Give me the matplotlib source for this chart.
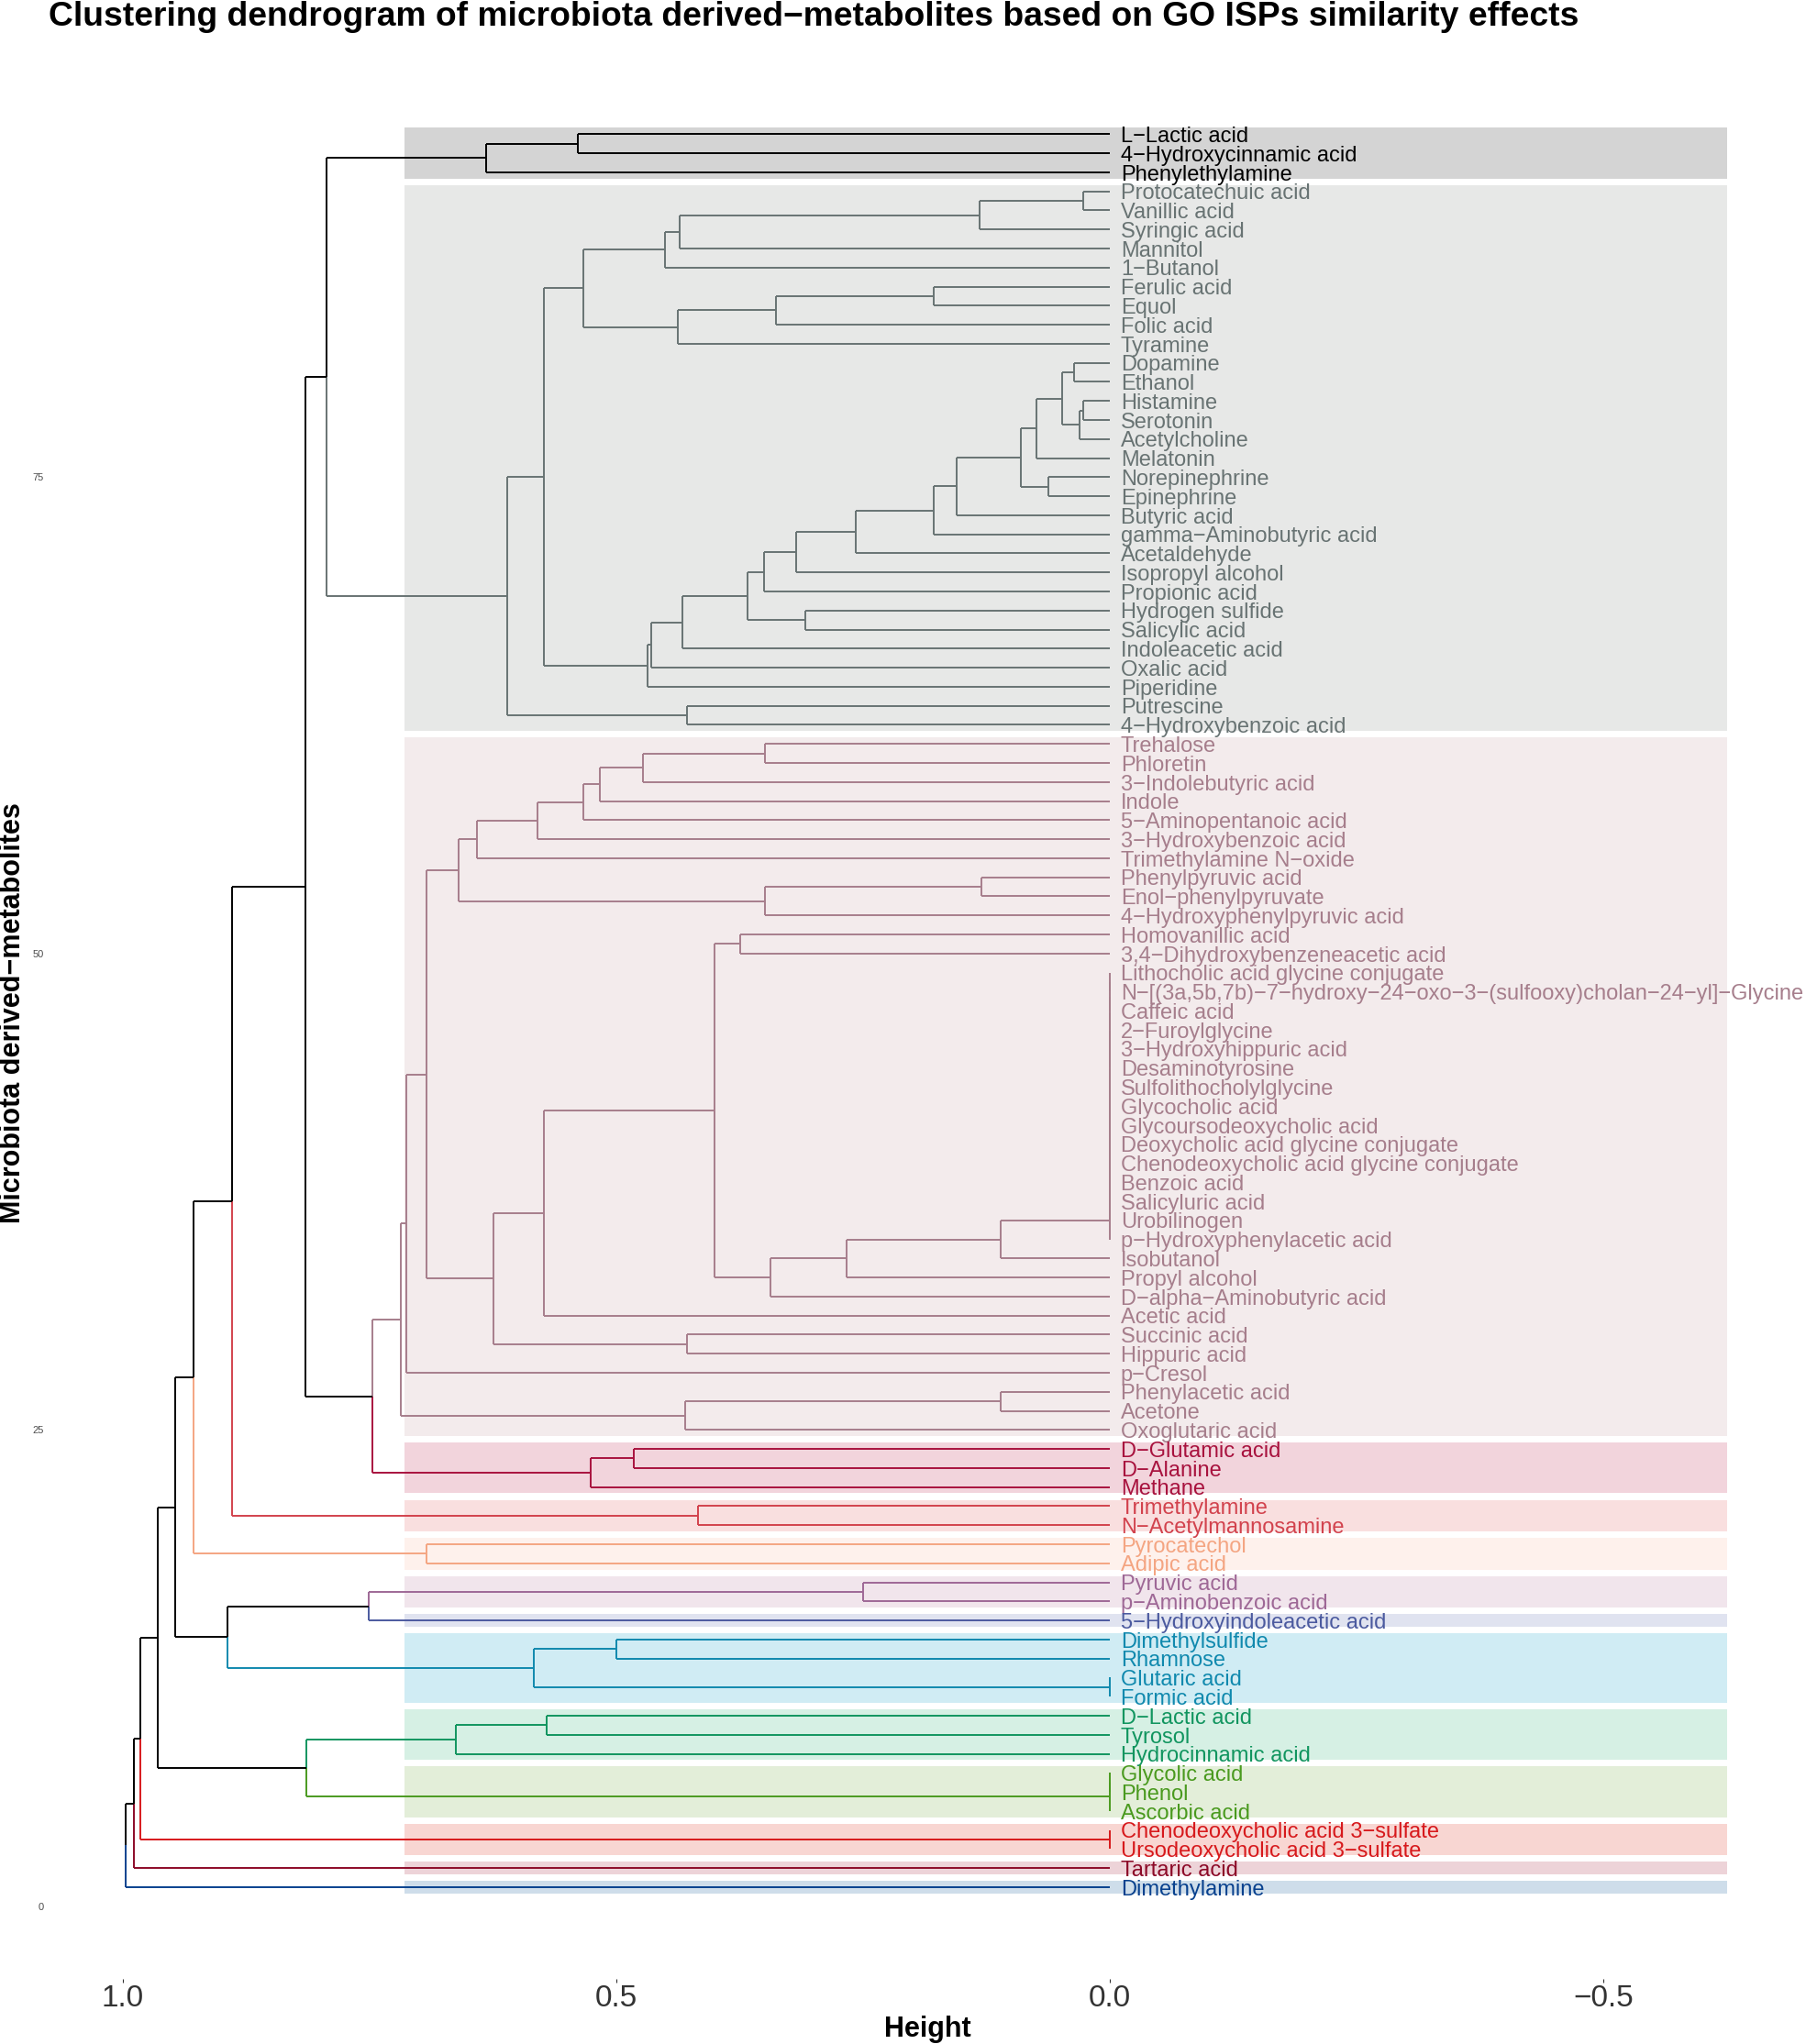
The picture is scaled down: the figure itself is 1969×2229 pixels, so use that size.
import matplotlib
matplotlib.use("Agg")
import matplotlib.pyplot as plt
from matplotlib.patches import Rectangle

plt.rcParams['font.family'] = ['Liberation Sans', 'DejaVu Sans']

# leaves, top to bottom
leaf_names = [
    "L-Lactic acid", "4-Hydroxycinnamic acid", "Phenylethylamine",
    "Protocatechuic acid", "Vanillic acid", "Syringic acid", "Mannitol", "1-Butanol",
    "Ferulic acid", "Equol", "Folic acid", "Tyramine", "Dopamine", "Ethanol",
    "Histamine", "Serotonin", "Acetylcholine", "Melatonin", "Norepinephrine",
    "Epinephrine", "Butyric acid", "gamma-Aminobutyric acid", "Acetaldehyde",
    "Isopropyl alcohol", "Propionic acid", "Hydrogen sulfide", "Salicylic acid",
    "Indoleacetic acid", "Oxalic acid", "Piperidine", "Putrescine",
    "4-Hydroxybenzoic acid",
    "Trehalose", "Phloretin", "3-Indolebutyric acid", "Indole",
    "5-Aminopentanoic acid", "3-Hydroxybenzoic acid", "Trimethylamine N-oxide",
    "Phenylpyruvic acid", "Enol-phenylpyruvate", "4-Hydroxyphenylpyruvic acid",
    "Homovanillic acid", "3,4-Dihydroxybenzeneacetic acid",
    "Lithocholic acid glycine conjugate",
    "N-[(3a,5b,7b)-7-hydroxy-24-oxo-3-(sulfooxy)cholan-24-yl]-Glycine",
    "Caffeic acid", "2-Furoylglycine", "3-Hydroxyhippuric acid", "Desaminotyrosine",
    "Sulfolithocholylglycine", "Glycocholic acid", "Glycoursodeoxycholic acid",
    "Deoxycholic acid glycine conjugate", "Chenodeoxycholic acid glycine conjugate",
    "Benzoic acid", "Salicyluric acid", "Urobilinogen", "p-Hydroxyphenylacetic acid",
    "Isobutanol", "Propyl alcohol", "D-alpha-Aminobutyric acid", "Acetic acid",
    "Succinic acid", "Hippuric acid", "p-Cresol", "Phenylacetic acid", "Acetone",
    "Oxoglutaric acid",
    "D-Glutamic acid", "D-Alanine", "Methane",
    "Trimethylamine", "N-Acetylmannosamine",
    "Pyrocatechol", "Adipic acid",
    "Pyruvic acid", "p-Aminobenzoic acid",
    "5-Hydroxyindoleacetic acid",
    "Dimethylsulfide", "Rhamnose", "Glutaric acid", "Formic acid",
    "D-Lactic acid", "Tyrosol", "Hydrocinnamic acid",
    "Glycolic acid", "Phenol", "Ascorbic acid",
    "Chenodeoxycholic acid 3-sulfate", "Ursodeoxycholic acid 3-sulfate",
    "Tartaric acid",
    "Dimethylamine",
]

# clusters in leaf order
cluster_sizes = [3, 29, 37, 3, 2, 2, 2, 1, 4, 3, 3, 2, 1, 1]
cluster_colors = ["#000000", "#687373", "#A67E8C", "#A8123E", "#D2424D", "#F4A582",
                  "#9E6896", "#4B5A9F", "#1089AE", "#11955F", "#4A9A1F", "#D7191C",
                  "#8C0A28", "#08418E"]
rect_colors = ["#D4D4D4", "#E7E8E7", "#F3EBEC", "#F2D4DC", "#F9DFDF", "#FEF1EC",
               "#F1E5EC", "#E0E3F0", "#D0ECF4", "#D6F0E4", "#E3EED9", "#F8D6D2",
               "#EDD3D8", "#CEDDEA"]

# merges: (node, child 1, child 2, height)
merges = [
    ("t1", "L-Lactic acid", "4-Hydroxycinnamic acid", 0.539),
    ("t2", "t1", "Phenylethylamine", 0.632),
    ("g1", "Protocatechuic acid", "Vanillic acid", 0.027),
    ("g2", "g1", "Syringic acid", 0.132),
    ("g3", "g2", "Mannitol", 0.436),
    ("g4", "g3", "1-Butanol", 0.451),
    ("g5", "Ferulic acid", "Equol", 0.178),
    ("g6", "g5", "Folic acid", 0.338),
    ("g7", "g6", "Tyramine", 0.438),
    ("g8", "g4", "g7", 0.533),
    ("g9", "Dopamine", "Ethanol", 0.036),
    ("g10", "Histamine", "Serotonin", 0.027),
    ("g11", "g10", "Acetylcholine", 0.031),
    ("g12", "g9", "g11", 0.048),
    ("g13", "g12", "Melatonin", 0.074),
    ("g14", "Norepinephrine", "Epinephrine", 0.062),
    ("g15", "g13", "g14", 0.090),
    ("g16", "g15", "Butyric acid", 0.155),
    ("g17", "g16", "gamma-Aminobutyric acid", 0.178),
    ("g18", "g17", "Acetaldehyde", 0.257),
    ("g19", "g18", "Isopropyl alcohol", 0.318),
    ("g20", "g19", "Propionic acid", 0.350),
    ("g21", "Hydrogen sulfide", "Salicylic acid", 0.309),
    ("g22", "g20", "g21", 0.367),
    ("g23", "g22", "Indoleacetic acid", 0.433),
    ("g24", "g23", "Oxalic acid", 0.465),
    ("g25", "g24", "Piperidine", 0.468),
    ("g26", "g8", "g25", 0.573),
    ("g27", "Putrescine", "4-Hydroxybenzoic acid", 0.428),
    ("g28", "g26", "g27", 0.611),
    ("p1", "Trehalose", "Phloretin", 0.349),
    ("p2", "p1", "3-Indolebutyric acid", 0.473),
    ("p3", "p2", "Indole", 0.517),
    ("p4", "p3", "5-Aminopentanoic acid", 0.533),
    ("p5", "p4", "3-Hydroxybenzoic acid", 0.580),
    ("p6", "p5", "Trimethylamine N-oxide", 0.641),
    ("p7", "Phenylpyruvic acid", "Enol-phenylpyruvate", 0.130),
    ("p8", "p7", "4-Hydroxyphenylpyruvic acid", 0.349),
    ("p9", "p6", "p8", 0.660),
    ("p10", "Homovanillic acid", "3,4-Dihydroxybenzeneacetic acid", 0.375),
    ("z1", "Lithocholic acid glycine conjugate",
     "N-[(3a,5b,7b)-7-hydroxy-24-oxo-3-(sulfooxy)cholan-24-yl]-Glycine", 0.0),
    ("z2", "z1", "Caffeic acid", 0.0),
    ("z3", "z2", "2-Furoylglycine", 0.0),
    ("z4", "z3", "3-Hydroxyhippuric acid", 0.0),
    ("z5", "z4", "Desaminotyrosine", 0.0),
    ("z6", "z5", "Sulfolithocholylglycine", 0.0),
    ("z7", "z6", "Glycocholic acid", 0.0),
    ("z8", "z7", "Glycoursodeoxycholic acid", 0.0),
    ("z9", "z8", "Deoxycholic acid glycine conjugate", 0.0),
    ("z10", "z9", "Chenodeoxycholic acid glycine conjugate", 0.0),
    ("z11", "z10", "Benzoic acid", 0.0),
    ("z12", "z11", "Salicyluric acid", 0.0),
    ("z13", "z12", "Urobilinogen", 0.0),
    ("z14", "z13", "p-Hydroxyphenylacetic acid", 0.0),
    ("p11", "z14", "Isobutanol", 0.111),
    ("p12", "p11", "Propyl alcohol", 0.267),
    ("p13", "p12", "D-alpha-Aminobutyric acid", 0.344),
    ("p14", "p10", "p13", 0.401),
    ("p15", "p14", "Acetic acid", 0.573),
    ("p16", "Succinic acid", "Hippuric acid", 0.428),
    ("p17", "p15", "p16", 0.625),
    ("p18", "p9", "p17", 0.692),
    ("p19", "p18", "p-Cresol", 0.713),
    ("p20", "Phenylacetic acid", "Acetone", 0.111),
    ("p21", "p20", "Oxoglutaric acid", 0.430),
    ("p22", "p19", "p21", 0.718),
    ("d1", "D-Glutamic acid", "D-Alanine", 0.482),
    ("d2", "d1", "Methane", 0.526),
    ("m1", "Trimethylamine", "N-Acetylmannosamine", 0.417),
    ("y1", "Pyrocatechol", "Adipic acid", 0.692),
    ("v1", "Pyruvic acid", "p-Aminobenzoic acid", 0.250),
    ("s1", "Dimethylsulfide", "Rhamnose", 0.500),
    ("s2", "Glutaric acid", "Formic acid", 0.0),
    ("s3", "s1", "s2", 0.584),
    ("l1", "D-Lactic acid", "Tyrosol", 0.571),
    ("l2", "l1", "Hydrocinnamic acid", 0.663),
    ("o1", "Glycolic acid", "Phenol", 0.0),
    ("o2", "o1", "Ascorbic acid", 0.0),
    ("c1", "Chenodeoxycholic acid 3-sulfate", "Ursodeoxycholic acid 3-sulfate", 0.0),
    ("A", "t2", "g28", 0.794),
    ("B", "p22", "d2", 0.747),
    ("C", "A", "B", 0.815),
    ("D", "C", "m1", 0.889),
    ("E", "D", "y1", 0.928),
    ("F", "v1", "5-Hydroxyindoleacetic acid", 0.751),
    ("G", "F", "s3", 0.894),
    ("H", "E", "G", 0.947),
    ("I", "l2", "o2", 0.814),
    ("J", "H", "I", 0.965),
    ("K", "J", "c1", 0.982),
    ("L", "K", "Tartaric acid", 0.989),
    ("M", "L", "Dimethylamine", 0.997),
]

x_ticks = [1.0, 0.5, 0.0, -0.5]
y_ticks = [0, 25, 50, 75]

title = "Clustering dendrogram of microbiota derived-metabolites based on GO ISPs similarity effects"


def minus(s):
    return s.replace("-", "\u2212")


n = len(leaf_names)
pos = {name: n - i for i, name in enumerate(leaf_names)}
height = {name: 0.0 for name in leaf_names}
cluster = {}
k = 0
for c, size in enumerate(cluster_sizes):
    for _ in range(size):
        cluster[leaf_names[k]] = c
        k += 1

W, H = 1969, 2229
fig = plt.figure(figsize=(W / 100, H / 100), dpi=100)
ax = fig.add_axes([60 / W, (H - 2158) / H, (W - 60) / W, (2158 - 100) / H])
ax.set_xlim((1210 - 60) / 1076, (1210 - W) / 1076)
ax.set_ylim((2078.8 - 2158) / 20.78, (2078.8 - 100) / 20.78)

# cluster rectangles
k = 0
for c, size in enumerate(cluster_sizes):
    top = pos[leaf_names[k]]
    bottom = pos[leaf_names[k + size - 1]]
    ax.add_patch(Rectangle((0.715, bottom - 0.33), -0.715 - 0.625, top - bottom + 0.66,
                           facecolor=rect_colors[c], edgecolor="none", zorder=0))
    k += size

lw = 1.4
for node, a, b, h in merges:
    y = (pos[a] + pos[b]) / 2
    for child in (a, b):
        cc = cluster[child]
        col = cluster_colors[cc] if cc is not None else "black"
        ax.plot([h, h], [y, pos[child]], color=col, lw=lw, solid_capstyle="butt", zorder=2)
        ax.plot([h, height[child]], [pos[child], pos[child]], color=col, lw=lw,
                solid_capstyle="butt", zorder=2)
    pos[node] = y
    height[node] = h
    cluster[node] = cluster[a] if cluster[a] is not None and cluster[a] == cluster[b] else None

for name in leaf_names:
    ax.text(-0.011, pos[name] - 0.42, minus(name), color=cluster_colors[cluster[name]],
            fontsize=17, ha="left", va="baseline", zorder=3)

for s in ax.spines.values():
    s.set_visible(False)
ax.set_xticks(x_ticks)
ax.set_xticklabels([minus(f"{t:.1f}") for t in x_ticks], fontsize=24, color="#333333")
ax.set_yticks(y_ticks)
ax.set_yticklabels([str(t) for t in y_ticks], fontsize=8, color="#4D4D4D")
ax.tick_params(axis="x", length=3, width=0.8, color="#333333", pad=1)
ax.tick_params(axis="y", length=0, pad=9)

fig.text(53 / W, 1 - 28 / H, minus(title), fontsize=26.8, fontweight="bold", ha="left",
         va="baseline")
fig.text(1011 / W, 1 - 2213 / H, "Height", fontsize=22, fontweight="bold", ha="center",
         va="center")
fig.text(14 / W, 1 - 1105 / H, minus("Microbiota derived-metabolites"), fontsize=22,
         fontweight="bold", rotation=90, ha="center", va="center")

fig.savefig("out.png", dpi=100)
